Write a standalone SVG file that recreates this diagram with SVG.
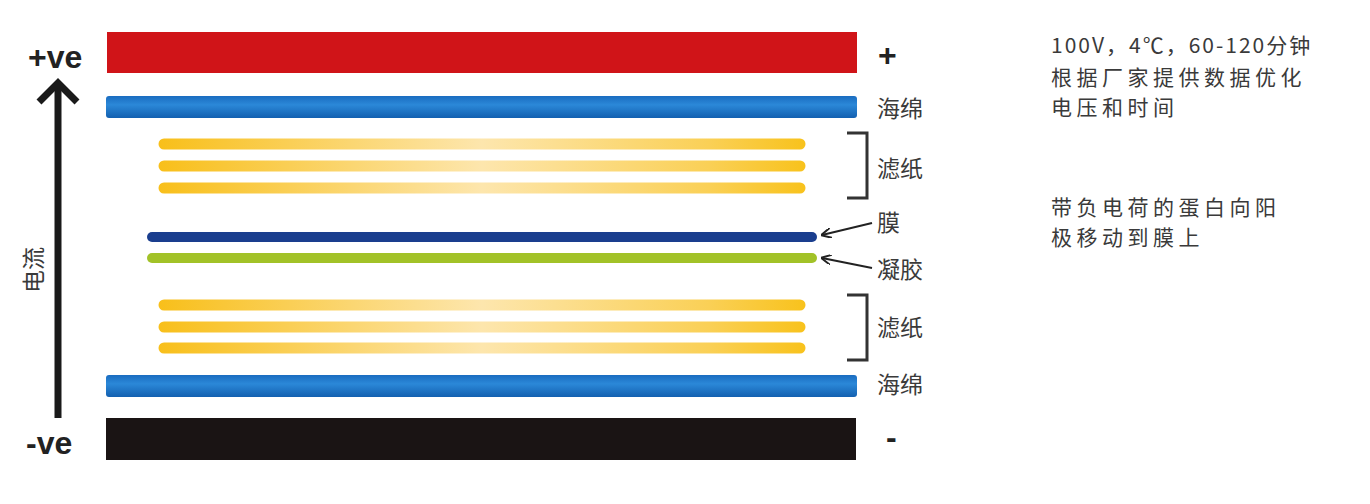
<svg xmlns="http://www.w3.org/2000/svg" width="1370" height="504" viewBox="0 0 1370 504">
<defs>
<linearGradient id="yel" gradientUnits="userSpaceOnUse" x1="158" y1="0" x2="806" y2="0">
<stop offset="0" stop-color="#f8bf1a"/>
<stop offset="0.5" stop-color="#fde6ad"/>
<stop offset="0.85" stop-color="#fad056"/>
<stop offset="1" stop-color="#f8c21c"/>
</linearGradient>
<linearGradient id="sponge" x1="0" y1="0" x2="0" y2="1">
<stop offset="0" stop-color="#1a6cc0"/>
<stop offset="0.4" stop-color="#2b88d8"/>
<stop offset="1" stop-color="#1360b0"/>
</linearGradient>
<marker id="ah" viewBox="0 0 10 10" refX="9" refY="5" markerWidth="5" markerHeight="5" orient="auto">
<path d="M0,0 L10,5 L0,10" fill="none" stroke="#222" stroke-width="2"/>
</marker>
<style>
.lbl{font-family:"Noto Sans CJK SC","Noto Sans",sans-serif;font-size:23px;fill:#3a3a3a}
.note{font-family:"Noto Sans CJK SC","Liberation Sans",sans-serif;font-size:21px;fill:#3a3a3a;letter-spacing:4.5px}
.ve{font-family:"Liberation Sans",Arial,sans-serif;font-size:32px;font-weight:bold;fill:#222}
.yl{stroke:url(#yel);stroke-width:11;stroke-linecap:round;fill:none}
.br{fill:none;stroke:#333;stroke-width:3}
</style>
</defs>
<rect width="1370" height="504" fill="#ffffff"/>
<g id="anode"><rect x="107" y="32" width="750" height="41" fill="#d01418"/></g>
<g id="sponge-top"><rect x="106" y="96" width="751" height="22" rx="3" fill="url(#sponge)"/></g>
<g id="filter-top">
<line class="yl" x1="164" y1="144" x2="800" y2="144"/>
<line class="yl" x1="164" y1="166" x2="800" y2="166"/>
<line class="yl" x1="164" y1="188" x2="800" y2="188"/>
</g>
<g id="membrane"><line x1="152" y1="237" x2="812" y2="237" stroke="#1a3e8e" stroke-width="10" stroke-linecap="round"/></g>
<g id="gel"><line x1="152" y1="258" x2="812" y2="258" stroke="#a2c228" stroke-width="10" stroke-linecap="round"/></g>
<g id="filter-bottom">
<line class="yl" x1="164" y1="305" x2="800" y2="305"/>
<line class="yl" x1="164" y1="327" x2="800" y2="327"/>
<line class="yl" x1="164" y1="348" x2="800" y2="348"/>
</g>
<g id="sponge-bottom"><rect x="106" y="375" width="751" height="22" rx="3" fill="url(#sponge)"/></g>
<g id="cathode"><rect x="106" y="418" width="750" height="42" fill="#1a1414"/></g>

<g id="current">
<line x1="58" y1="86" x2="58" y2="418" stroke="#1a1a1a" stroke-width="7"/>
<path d="M39,102 L58,83 L77,102" fill="none" stroke="#1a1a1a" stroke-width="7" stroke-linejoin="miter"/>
<text class="ve" x="28" y="68">+ve</text>
<text class="ve" x="26" y="454">-ve</text>
<text class="lbl" transform="translate(42,270) rotate(-90)" text-anchor="middle">电流</text>
</g>

<g id="labels">
<text class="ve" x="878" y="66" font-size="26">+</text>
<text class="lbl" x="877" y="117">海绵</text>
<text class="lbl" x="877" y="177">滤纸</text>
<text class="lbl" x="877" y="231">膜</text>
<text class="lbl" x="877" y="278">凝胶</text>
<text class="lbl" x="877" y="336">滤纸</text>
<text class="lbl" x="877" y="393">海绵</text>
<text class="ve" x="886" y="448" font-size="26">-</text>
</g>

<g id="connectors">
<path class="br" d="M847,133 H867 V198 H847"/>
<path class="br" d="M847,295 H867 V360 H847"/>
<line x1="872" y1="223" x2="822" y2="235" stroke="#222" stroke-width="2" marker-end="url(#ah)"/>
<line x1="872" y1="268" x2="822" y2="258" stroke="#222" stroke-width="2" marker-end="url(#ah)"/>
</g>

<g id="notes">
<text class="note" x="1051" y="53" style="letter-spacing:2px">100V，4℃，60-120分钟</text>
<text class="note" x="1051" y="85">根据厂家提供数据优化</text>
<text class="note" x="1051" y="115">电压和时间</text>
<text class="note" x="1051" y="215">带负电荷的蛋白向阳</text>
<text class="note" x="1051" y="245">极移动到膜上</text>
</g>
</svg>
